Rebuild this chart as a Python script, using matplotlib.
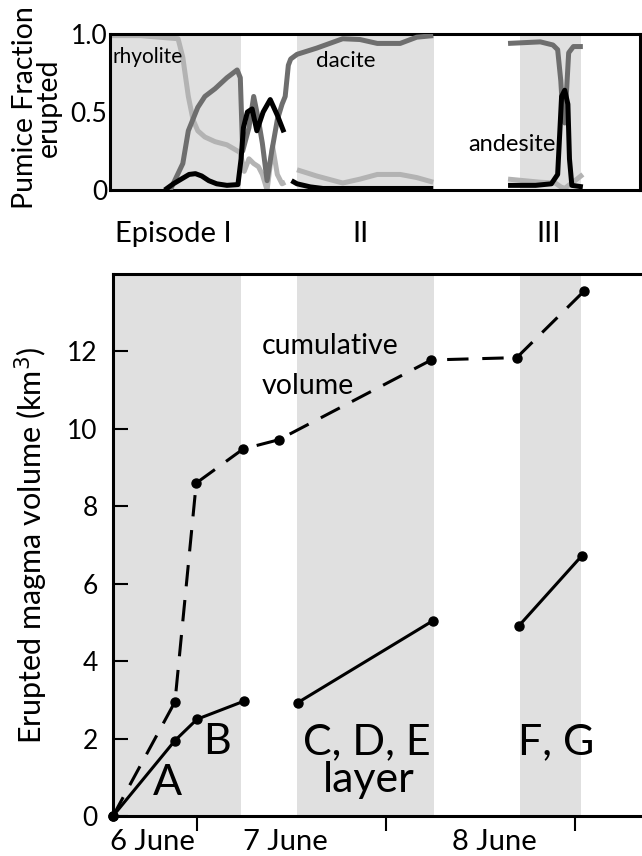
import matplotlib
matplotlib.use('Agg')
import matplotlib.pyplot as plt

plt.rcParams['font.family'] = ['Lato', 'DejaVu Sans']

## x axis is hours counted from 6 June 00:00
## shaded eruption layers (start, end)
layer_start = [12.9, 36.7, 65.0]
layer_end = [29.6, 54.1, 72.8]

## Erupted volume, each layer package separately (km3)
vol_x = [[13.33, 21.2, 24.0, 30.0], [36.8, 54.0], [64.9, 72.85]]
vol_y = [[0.0, 1.95, 2.5, 2.97], [2.93, 5.05], [4.92, 6.72]]

## cumulative volume (km3)
cum_x = [13.33, 21.2, 23.9, 29.85, 34.4, 53.75, 64.6, 73.1]
cum_y = [0.0, 2.95, 8.6, 9.48, 9.72, 11.78, 11.84, 13.55]

## pumice fractions, top panel
rhy_x = [[12.95, 16.8, 21.6, 22.2, 22.9, 23.5, 24.1, 25.0, 26.3, 27.8, 29.5, 30.0, 30.6, 31.2,
          31.8, 32.3, 32.9, 33.6, 34.2, 34.8, 35.2],
         [36.7, 39.2, 42.5, 44.7, 46.9, 49.8, 51.9, 54.0],
         [63.5, 67.6, 69.5, 70.2, 70.7, 71.2, 72.0, 73.0]]
rhy_y = [[0.99, 0.99, 0.97, 0.85, 0.6, 0.45, 0.38, 0.34, 0.31, 0.29, 0.24, 0.12, 0.2, 0.17,
          0.15, 0.1, 0.0, 0.28, 0.1, 0.04, 0.05],
         [0.13, 0.09, 0.045, 0.07, 0.1, 0.1, 0.08, 0.05],
         [0.07, 0.05, 0.045, 0.02, 0.01, 0.03, 0.06, 0.1]]

dac_x = [[20.6, 22.2, 22.9, 24.1, 25.0, 26.3, 27.8, 29.1, 29.5, 29.8, 30.6, 31.2, 31.8, 32.3,
          32.9, 33.5, 34.2, 34.8, 35.2, 35.6, 35.9, 36.7, 39.2, 42.5, 44.7, 46.9, 49.8, 51.9, 54.0],
         [63.5, 67.6, 69.2, 69.8, 70.2, 70.5, 70.7, 71.0, 71.2, 71.8, 73.0]]
dac_y = [[0.0, 0.17, 0.38, 0.53, 0.6, 0.65, 0.72, 0.77, 0.72, 0.25, 0.4, 0.6, 0.45, 0.3,
          0.06, 0.25, 0.45, 0.55, 0.6, 0.8, 0.84, 0.87, 0.91, 0.97, 0.965, 0.94, 0.94, 0.98, 0.99],
         [0.94, 0.95, 0.93, 0.9, 0.7, 0.45, 0.43, 0.7, 0.88, 0.92, 0.92]]

and_x = [[19.9, 21.0, 22.0, 23.0, 23.8, 24.6, 25.5, 26.5, 27.8, 29.2, 29.6, 29.9, 30.4, 31.0,
          31.6, 32.4, 33.3, 34.2, 35.05],
         [36.0, 36.7, 38.4, 40.0, 45.0, 54.0],
         [63.5, 67.0, 69.0, 69.8, 70.1, 70.3, 70.7, 71.1, 71.3, 71.6, 73.0]]
and_y = [[0.0, 0.04, 0.07, 0.1, 0.105, 0.09, 0.06, 0.04, 0.03, 0.035, 0.2, 0.4, 0.5, 0.52,
          0.38, 0.5, 0.58, 0.48, 0.37],
         [0.06, 0.04, 0.02, 0.01, 0.01, 0.01],
         [0.03, 0.03, 0.04, 0.1, 0.4, 0.6, 0.64, 0.55, 0.2, 0.03, 0.02]]

day_ticks = [24, 48, 72]
day_label_x = [18.3, 35.2, 61.7]
day_labels = ['6 June', '7 June', '8 June']

episode_x = [13.6, 44.8, 68.7]
episode_labels = ['Episode I', 'II', 'III']

band_color = '#e0e0e0'

fig = plt.figure(figsize=(6.42, 8.56), dpi=100)

# ---- top panel: pumice fractions
ax1 = fig.add_axes([0.1713, 0.778, 0.8255, 0.1822])
for x0, x1 in zip(layer_start, layer_end):
    ax1.axvspan(x0, x1, color=band_color, lw=0, zorder=0)

for xs, ys in zip(rhy_x, rhy_y):
    ax1.plot(xs, ys, color='#b3b3b3', lw=3.6, solid_capstyle='butt', solid_joinstyle='round', zorder=2)
for xs, ys in zip(dac_x, dac_y):
    ax1.plot(xs, ys, color='#6e6e6e', lw=3.6, solid_capstyle='butt', solid_joinstyle='round', zorder=3)
for xs, ys in zip(and_x, and_y):
    ax1.plot(xs, ys, color='black', lw=3.6, solid_capstyle='butt', solid_joinstyle='round', zorder=4)

ax1.set_xlim(12.95, 80.25)
ax1.set_ylim(0, 1.0)
ax1.set_xticks([])
ax1.set_yticks([0, 0.5, 1.0])
ax1.set_yticklabels(['0', '0.5', '1.0'], fontsize=19)
ax1.tick_params(axis='y', length=0, pad=2)
for s in ax1.spines.values():
    s.set_linewidth(2.2)

ax1.text(13.33, 0.85, 'rhyolite', fontsize=15, va='center', ha='left')
ax1.text(39.1, 0.83, 'dacite', fontsize=16, va='center', ha='left')
ax1.text(58.5, 0.29, 'andesite', fontsize=17, va='center', ha='left', zorder=5)

trans = ax1.get_xaxis_transform()
ax1.text(episode_x[0], -0.28, episode_labels[0], transform=trans, fontsize=21, ha='left', va='center')
for x, lab in zip(episode_x[1:], episode_labels[1:]):
    ax1.text(x, -0.28, lab, transform=trans, fontsize=21, ha='center', va='center')

fig.text(0.057, 0.874, 'Pumice Fraction\nerupted', rotation=90, fontsize=20.5,
         ha='center', va='center', multialignment='center', linespacing=0.9)

# ---- bottom panel: erupted volumes
ax2 = fig.add_axes([0.176, 0.0467, 0.824, 0.6332])
for x0, x1 in zip(layer_start, layer_end):
    ax2.axvspan(x0, x1, color=band_color, lw=0, zorder=0)

for xs, ys in zip(vol_x, vol_y):
    ax2.plot(xs, ys, color='black', lw=2.2, marker='o', ms=6.5, clip_on=False, zorder=3)
line, = ax2.plot(cum_x, cum_y, color='black', lw=2.2, marker='o', ms=6.5, clip_on=False, zorder=3)
line.set_dashes((7, 4.5))

ax2.set_xlim(13.33, 80.5)
ax2.set_ylim(0, 14)
ax2.set_yticks([0, 2, 4, 6, 8, 10, 12])
ax2.tick_params(axis='y', direction='in', length=11, width=1.5, labelsize=19, pad=11)
ax2.set_xticks(day_ticks)
ax2.set_xticklabels([])
ax2.set_xticks(day_label_x, minor=True)
ax2.set_xticklabels(day_labels, minor=True, fontsize=21)
ax2.tick_params(axis='x', which='major', direction='out', length=11, width=1.5)
ax2.tick_params(axis='x', which='minor', length=0, pad=9)
ax2.spines['right'].set_visible(False)
for s in ['left', 'top', 'bottom']:
    ax2.spines[s].set_linewidth(2.2)
ax2.set_ylabel('Erupted magma volume (km$^3$)', fontsize=22, labelpad=12)

ax2.text(32.25, 12.14, 'cumulative', fontsize=20.5, va='center', ha='left')
ax2.text(32.25, 11.11, 'volume', fontsize=20.5, va='center', ha='left')
ax2.text(20.3, 0.86, 'A', fontsize=31, ha='center', va='center')
ax2.text(26.5, 1.9, 'B', fontsize=31, ha='center', va='center')
ax2.text(45.6, 1.9, 'C, D, E', fontsize=31, ha='center', va='center')
ax2.text(45.8, 0.92, 'layer', fontsize=31, ha='center', va='center')
ax2.text(69.6, 1.9, 'F, G', fontsize=31, ha='center', va='center')

fig.savefig('out.png', dpi=100)
